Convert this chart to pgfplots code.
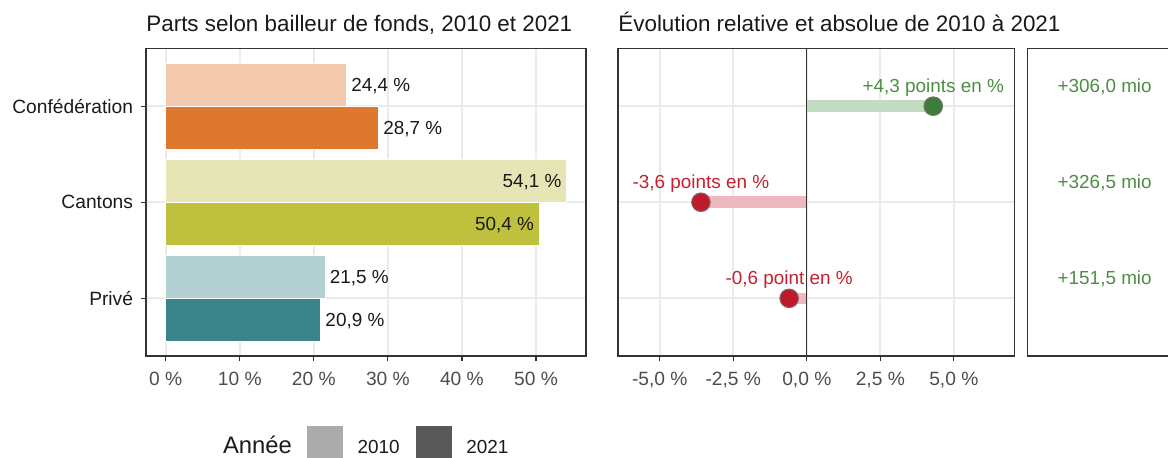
\documentclass[border=0pt]{standalone}
\usepackage{fontspec}
\setmainfont{Liberation Sans}
\usepackage{pgfplots}
\pgfplotsset{compat=1.18}

\definecolor{frame}{HTML}{333333}
\definecolor{gridc}{HTML}{EBEBEB}
\definecolor{txt}{HTML}{1A1A1A}
\definecolor{ticktxt}{HTML}{4D4D4D}
\definecolor{conf10}{HTML}{F2C9AD}
\definecolor{conf21}{HTML}{DE782F}
\definecolor{cant10}{HTML}{E5E5B5}
\definecolor{cant21}{HTML}{BFC03D}
\definecolor{priv10}{HTML}{B3D1D3}
\definecolor{priv21}{HTML}{3B848B}
\definecolor{txtG}{HTML}{4D8F42}
\definecolor{ptG}{HTML}{3D7D37}
\definecolor{segG}{HTML}{C3DBC1}
\definecolor{txtR}{HTML}{C4202F}
\definecolor{ptR}{HTML}{BF1A2A}
\definecolor{segR}{HTML}{EEB9BE}
\definecolor{ptline}{HTML}{707070}
\definecolor{key10}{HTML}{ABABAB}
\definecolor{key21}{HTML}{595959}

\newcommand\axfont{\fontsize{9.6}{11}\selectfont}
\newcommand\lblfont{\fontsize{9.45}{11}\selectfont}

\pgfkeys{/pgf/number format/.cd, use comma, fixed, fixed zerofill, precision=1, assume math mode=true}

\pgfplotsset{
  panel/.style={
    scale only axis, anchor=south west, height=153.75pt,
    y dir=reverse, ymin=0.4, ymax=3.6,
    axis line style={draw=frame, line width=0.55pt},
    tick align=outside, major tick length=2.5pt,
    tick style={draw=frame, line width=0.55pt},
    grid style={draw=gridc, line width=0.9pt},
    xtick pos=left, ytick pos=left,
    xticklabel style={font=\axfont, text=ticktxt, anchor=base, inner sep=0pt, yshift=-12.1pt},
    yticklabel style={font=\axfont, text=txt, anchor=east, inner sep=0pt, xshift=-3.8pt},
  },
  outlbl/.style={point meta=x,
    nodes near coords={\pgfmathprintnumber{\pgfplotspointmeta}~\%},
    nodes near coords style={anchor=base west, inner sep=0pt, xshift=2.3pt, yshift=-3.4pt, font=\lblfont, text=txt}},
  inlbl/.style={point meta=x,
    nodes near coords={\pgfmathprintnumber{\pgfplotspointmeta}~\%},
    nodes near coords style={anchor=base east, inner sep=0pt, xshift=-2.3pt, yshift=-3.4pt, font=\lblfont, text=txt}},
  b10/.style={draw=white, line width=0.4pt, bar shift=-0.225},
  b21/.style={draw=white, line width=0.4pt, bar shift=0.225},
  dot/.style={only marks, mark=*, mark size=4.65pt,
    mark options={fill=#1, draw=ptline, line width=0.5pt}},
  seg/.style={draw=#1, line width=5.85pt, line cap=butt, mark=none},
  dlbl/.style={nodes near coords style={anchor=base, inner sep=0pt, yshift=7pt, font=\lblfont, text=#1}},
}

\begin{document}
\begin{tikzpicture}
\useasboundingbox (0,0) rectangle (584pt,228.5pt);

% left panel: shares
\begin{axis}[panel, at={(73pt,50.5pt)}, width=220pt,
  xmin=-2.66, xmax=56.75,
  xtick={0,10,20,30,40,50},
  xticklabels={0~\%,10~\%,20~\%,30~\%,40~\%,50~\%},
  ytick={1,2,3}, yticklabels={Confédération,Cantons,Privé},
  xmajorgrids, ymajorgrids,
  xbar, bar width=0.45]
\addplot[b10, fill=conf10, outlbl] coordinates {(24.4,1)};
\addplot[b21, fill=conf21, outlbl] coordinates {(28.7,1)};
\addplot[b10, fill=cant10, inlbl] coordinates {(54.1,2)};
\addplot[b21, fill=cant21, inlbl] coordinates {(50.4,2)};
\addplot[b10, fill=priv10, outlbl] coordinates {(21.5,3)};
\addplot[b21, fill=priv21, outlbl] coordinates {(20.9,3)};
\end{axis}

% middle panel: change in points
\begin{axis}[panel, at={(309pt,50.5pt)}, width=198.35pt,
  xmin=-6.42, xmax=7.07,
  xtick={-5,-2.5,0,2.5,5},
  xticklabels={{-5,0~\%},{-2,5~\%},{0,0~\%},{2,5~\%},{5,0~\%}},
  ytick={1,2,3}, yticklabels={}, major y tick style={draw=none},
  xmajorgrids, ymajorgrids]
\addplot[seg=segG] coordinates {(0,1) (4.3,1)};
\addplot[seg=segR] coordinates {(0,2) (-3.6,2)};
\addplot[seg=segR] coordinates {(0,3) (-0.6,3)};
\addplot[draw=frame, line width=0.55pt, mark=none] coordinates {(0,0.4) (0,3.6)};
\addplot[dot=ptG, dlbl=txtG, nodes near coords={+4,3 points en \%}] coordinates {(4.3,1)};
\addplot[dot=ptR, dlbl=txtR, nodes near coords={-3,6 points en \%}] coordinates {(-3.6,2)};
\addplot[dot=ptR, dlbl=txtR, nodes near coords={-0,6 point en \%}] coordinates {(-0.6,3)};
\end{axis}

% right panel: absolute change
\begin{axis}[panel, at={(513.85pt,50.5pt)}, width=77pt,
  xmin=0, xmax=1, xtick=\empty, ytick=\empty]
\addplot[only marks, mark=*, mark size=0pt, draw=none, dlbl=txtG, nodes near coords={+306,0 mio}] coordinates {(0.5,1)};
\addplot[only marks, mark=*, mark size=0pt, draw=none, dlbl=txtG, nodes near coords={+326,5 mio}] coordinates {(0.5,2)};
\addplot[only marks, mark=*, mark size=0pt, draw=none, dlbl=txtG, nodes near coords={+151,5 mio}] coordinates {(0.5,3)};
\end{axis}

% titles
\node[anchor=base west, inner sep=0pt, font=\fontsize{11.2}{13}\selectfont, text=txt] at (73pt,212.65pt) {Parts selon bailleur de fonds, 2010 et 2021};
\node[anchor=base west, inner sep=0pt, font=\fontsize{11.2}{13}\selectfont, text=txt] at (309pt,212.65pt) {Évolution relative et absolue de 2010 à 2021};

% legend
\node[anchor=base west, inner sep=0pt, font=\fontsize{11.9}{14}\selectfont, text=txt] at (111.35pt,1.85pt) {Année};
\fill[key10] (153.5pt,15.65pt) rectangle (171.5pt,-3pt);
\node[anchor=base west, inner sep=0pt, font=\lblfont, text=txt] at (178.6pt,1.85pt) {2010};
\fill[key21] (208pt,15.65pt) rectangle (226pt,-3pt);
\node[anchor=base west, inner sep=0pt, font=\lblfont, text=txt] at (233pt,1.85pt) {2021};
\end{tikzpicture}
\end{document}
